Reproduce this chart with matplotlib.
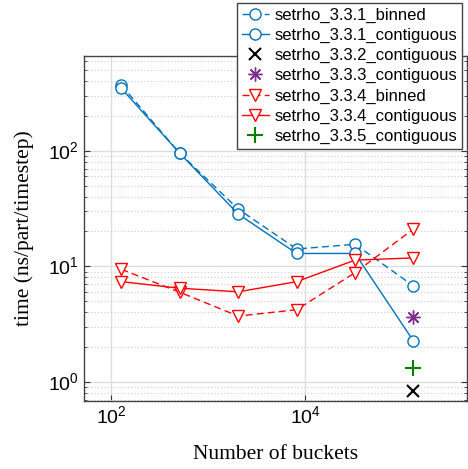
import matplotlib
matplotlib.use("Agg")
import matplotlib.pyplot as plt

# number of buckets
buckets = [128, 512, 2048, 8192, 32768, 131072]

# time (ns/part/timestep)
t_331_binned = [370, 95, 31.3, 14.1, 15.5, 6.75]
t_331_contig = [347, 95, 28.3, 12.9, 12.9, 2.25]
t_332_contig = [0.83]
t_333_contig = [3.6]
t_334_binned = [9.4, 5.95, 3.7, 4.2, 8.8, 21.0]
t_334_contig = [7.35, 6.45, 6.0, 7.35, 11.3, 11.8]
t_335_contig = [1.32]

azul = "#0072BD"
morado = "#7E2F8E"
verde = "#008000"

plt.rcParams["font.family"] = ["Liberation Sans", "DejaVu Sans"]
plt.rcParams["mathtext.fontset"] = "custom"
plt.rcParams["mathtext.rm"] = "Liberation Sans"

fig = plt.figure(figsize=(4.68, 4.69), dpi=100)
ax = fig.add_axes([0.1795, 0.145, 0.8185, 0.736])

estilo = dict(markersize=8, markerfacecolor="white", markeredgewidth=1.0, linewidth=1.0)

ax.plot(buckets, t_331_binned, "--o", color=azul, label="setrho_3.3.1_binned", dashes=(5, 3), **estilo)
ax.plot(buckets, t_331_contig, "-o", color=azul, label="setrho_3.3.1_contiguous", **estilo)
ax.plot(buckets[-1:], t_332_contig, "x", color="black", markersize=8, markeredgewidth=1.5,
        linestyle="none", label="setrho_3.3.2_contiguous")
ax.plot(buckets[-1:], t_333_contig, "*", color=morado, markersize=10, markeredgewidth=1.0,
        linestyle="none", label="setrho_3.3.3_contiguous")
ax.plot(buckets, t_334_binned, "--v", color="red", label="setrho_3.3.4_binned", dashes=(5, 3), **estilo)
ax.plot(buckets, t_334_contig, "-v", color="red", label="setrho_3.3.4_contiguous", **estilo)
ax.plot(buckets[-1:], t_335_contig, "+", color=verde, markersize=11, markeredgewidth=1.5,
        linestyle="none", label="setrho_3.3.5_contiguous")

# el asterisco: se dibuja con marcador de 8 brazos
ax.lines[3].set_marker((8, 2, 0))

ax.set_xscale("log")
ax.set_yscale("log")
ax.set_xlim(52.7, 468000)
ax.set_ylim(0.68, 665)

ax.set_xticks([1e2, 1e4])
ax.set_xticklabels([r"$10^2$", r"$10^4$"])
ax.set_xticks([], minor=True)
ax.set_yticks([1e0, 1e1, 1e2])
ax.set_yticklabels([r"$10^0$", r"$10^1$", r"$10^2$"])

ax.tick_params(which="both", direction="in", top=False, right=True, labelsize=14,
               color="#333333")
ax.tick_params(which="major", length=4)
ax.tick_params(which="minor", length=2.5)

ax.grid(True, which="major", color="#dddddd", linewidth=1.0, linestyle="-")
ax.grid(True, which="minor", axis="y", color="#cccccc", linewidth=0.8, linestyle=(0, (1, 2)))
ax.set_axisbelow(True)

for lado in ax.spines.values():
    lado.set_color("#444444")
    lado.set_linewidth(1.0)

ax.set_xlabel("Number of buckets", family=["Liberation Serif", "DejaVu Serif"], fontsize=15.5, labelpad=12)
ax.set_ylabel("time (ns/part/timestep)", family=["Liberation Serif", "DejaVu Serif"], fontsize=15.5, labelpad=10)

leyenda = fig.legend(loc="upper right", bbox_to_anchor=(0.988, 0.994), fontsize=12,
                     frameon=True, fancybox=False, framealpha=1.0, edgecolor="#444444",
                     handlelength=1.6, handletextpad=0.35, borderpad=0.3, labelspacing=0.3,
                     borderaxespad=0.0)
leyenda.get_frame().set_linewidth(1.0)

fig.savefig("out.png", dpi=100)
